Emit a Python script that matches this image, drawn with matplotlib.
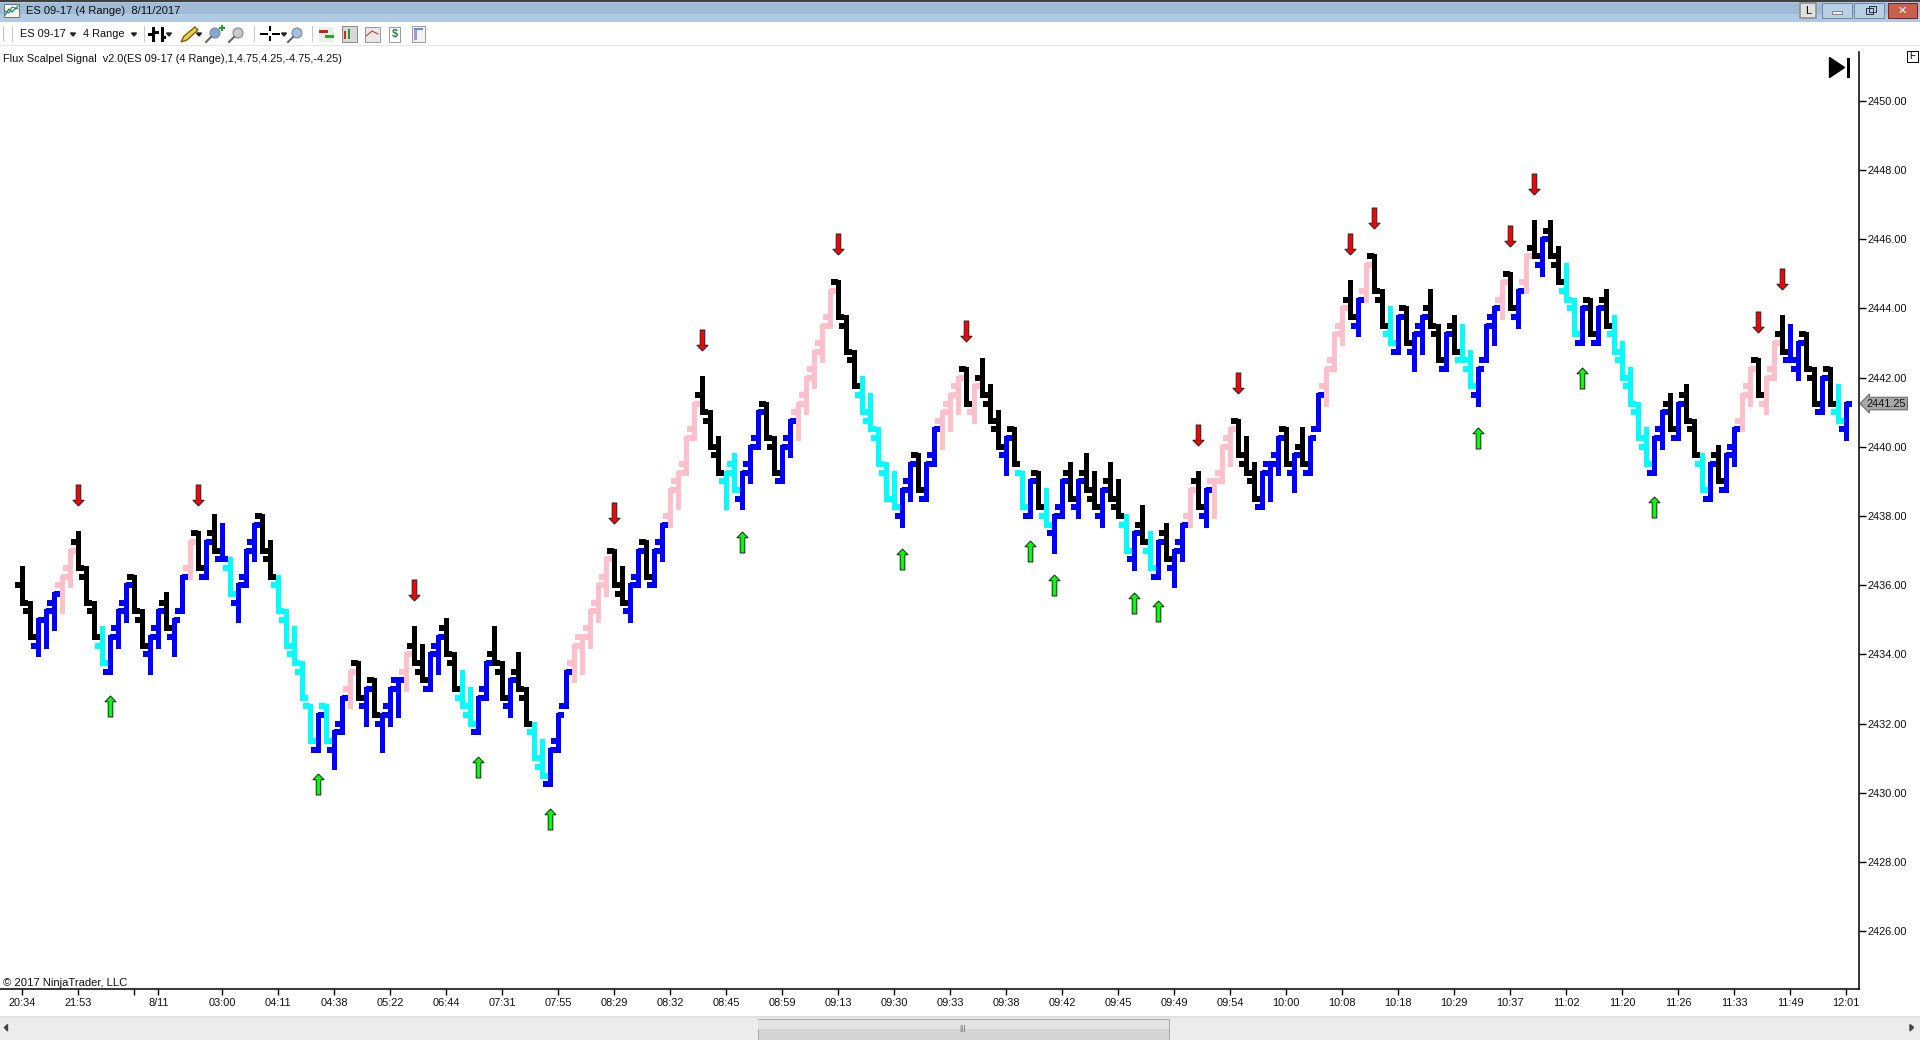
"""
ES 09-17 4 Range chart with the Flux Scalpel Signal, NinjaTrader style window
"""
import matplotlib
matplotlib.use('Agg')
import matplotlib.pyplot as plt
from matplotlib.patches import Polygon, Rectangle
from matplotlib.path import Path

plt.rcParams['font.family'] = ['Liberation Sans', 'DejaVu Sans']

# prices are quoted in quarter points, bars below are in ticks under 2450.00
TOP_PRICE = 2450.0
TICK = 0.25
RANGE_TICKS = 4

bar_high = [54, 58, 60, 59, 57, 55, 52, 50, 54, 58,
            61, 62, 59, 56, 55, 59, 62, 59, 57, 60,
            55, 51, 50, 51, 48, 49, 53, 56, 52, 49,
            48, 51, 55, 59, 61, 65, 70, 71, 70, 73,
            69, 66, 65, 68, 67, 71, 68, 67, 64, 61,
            63, 64, 62, 60, 64, 66, 68, 69, 65, 61,
            65, 67, 64, 68, 72, 74, 75, 71, 66, 63,
            62, 59, 56, 53, 52, 54, 56, 52, 51, 52,
            49, 45, 43, 39, 35, 32, 36, 39, 43, 41,
            43, 40, 36, 35, 39, 40, 37, 35, 32, 29,
            26, 22, 21, 25, 29, 32, 34, 38, 42, 43,
            45, 42, 41, 42, 38, 36, 34, 32, 31, 33,
            30, 33, 36, 39, 38, 43, 44, 43, 45, 48,
            44, 42, 44, 41, 43, 45, 42, 44, 48, 50,
            47, 50, 51, 49, 52, 49, 45, 43, 45, 44,
            40, 38, 37, 39, 42, 43, 42, 39, 38, 41,
            38, 39, 34, 31, 27, 24, 21, 23, 19, 18,
            22, 24, 25, 24, 27, 25, 22, 26, 27, 25,
            26, 29, 31, 26, 24, 21, 20, 22, 18, 14,
            16, 14, 17, 19, 23, 24, 23, 24, 22, 25,
            28, 31, 35, 38, 39, 36, 34, 35, 33, 37,
            41, 42, 40, 41, 38, 34, 31, 30, 32, 28,
            25, 26, 28, 27, 31, 32, 31, 33, 35]

bar_open = [56, 59, 63, 60, 58, 56, 54, 51, 55, 59,
            63, 66, 61, 58, 55, 60, 64, 61, 58, 62,
            59, 54, 50, 55, 50, 53, 54, 58, 55, 51,
            48, 53, 56, 60, 64, 66, 70, 75, 70, 75,
            72, 68, 65, 70, 67, 72, 70, 67, 66, 63,
            66, 68, 63, 61, 65, 69, 71, 73, 68, 64,
            66, 70, 66, 69, 73, 77, 79, 74, 70, 65,
            62, 61, 58, 55, 52, 57, 59, 55, 51, 56,
            51, 48, 44, 42, 38, 34, 37, 41, 44, 42,
            46, 42, 39, 35, 40, 44, 39, 36, 34, 31,
            28, 25, 21, 26, 30, 34, 37, 39, 43, 46,
            48, 44, 41, 46, 41, 37, 35, 33, 31, 36,
            32, 35, 38, 41, 38, 43, 48, 43, 48, 50,
            47, 43, 47, 43, 46, 48, 44, 47, 49, 53,
            49, 52, 55, 50, 54, 51, 48, 44, 48, 44,
            43, 39, 37, 42, 44, 47, 42, 41, 38, 43,
            40, 43, 38, 33, 30, 26, 23, 26, 22, 18,
            23, 27, 29, 24, 29, 26, 24, 27, 31, 26,
            30, 31, 34, 30, 25, 23, 20, 25, 21, 17,
            19, 15, 19, 22, 24, 28, 23, 28, 23, 27,
            30, 33, 36, 40, 43, 38, 35, 39, 34, 38,
            42, 46, 41, 45, 40, 37, 33, 30, 35, 31,
            27, 30, 31, 27, 32, 36, 31, 36, 38]

bar_close = [58, 62, 60, 59, 57, 55, 52, 54, 58, 62,
             65, 62, 59, 56, 59, 63, 62, 59, 61, 60,
             55, 51, 54, 51, 52, 53, 57, 56, 52, 49,
             52, 55, 59, 63, 65, 69, 74, 71, 74, 73,
             69, 66, 69, 68, 71, 71, 68, 67, 64, 65,
             67, 64, 62, 64, 68, 70, 72, 69, 65, 65,
             69, 67, 68, 72, 76, 78, 75, 71, 66, 63,
             62, 59, 56, 53, 56, 58, 56, 52, 55, 52,
             49, 45, 43, 39, 35, 36, 40, 43, 43, 45,
             43, 40, 36, 39, 43, 40, 37, 35, 32, 29,
             26, 22, 25, 29, 33, 36, 38, 42, 46, 47,
             45, 42, 45, 42, 38, 36, 34, 32, 35, 33,
             34, 37, 40, 39, 42, 47, 44, 47, 49, 48,
             44, 46, 44, 45, 47, 45, 46, 48, 52, 50,
             51, 54, 51, 53, 52, 49, 45, 47, 45, 44,
             40, 38, 41, 43, 46, 43, 42, 39, 42, 41,
             42, 39, 34, 31, 27, 24, 25, 23, 19, 22,
             26, 28, 25, 28, 27, 25, 26, 30, 27, 29,
             30, 33, 31, 26, 24, 21, 24, 22, 18, 18,
             16, 18, 21, 23, 27, 24, 27, 24, 26, 29,
             32, 35, 39, 42, 39, 36, 38, 35, 37, 41,
             45, 42, 44, 41, 38, 34, 31, 34, 32, 28,
             29, 30, 28, 31, 35, 32, 35, 37, 35]

# K = flat signal, B = long, C = short pullback, P = long pullback
bar_state = list("KKBBBPPKKK" "CBBBKKBBKB" "BPKBKBCBBB" "KKCCCCCBCB"
                 "BPKBKBBBPK" "KBBKKCCBBK" "KBKKCCBBBP" "PPPPKKBBKB"
                 "BPPPPKKKCC" "BBBKKBBPPP" "PPKKKCCCCC" "BBKBBPPPKP"
                 "KKKBKCBKCB" "BKBKKBKKCB" "KCBKBBPKBP" "PPKKKBBBKB"
                 "KBBPPPKBPK" "KCBKBBKKBK" "CCBBBPKBPK" "BKKCCBKBKC"
                 "CCCCBBKBKK" "CBKBBPPKPP" "KBBKKBKCB")

sell_bars = [7, 22, 49, 74, 85, 102, 118, 147, 152, 166, 169, 186, 189, 217, 220]
buy_bars = [11, 37, 57, 66, 90, 110, 126, 129, 139, 142, 182, 195, 204]

time_ticks = [0, 7, 14, 17] + list(range(25, 229, 7))
time_labels = ['20:34', '21:53', '', '8/11', '03:00', '04:11', '04:38', '05:22',
               '06:44', '07:31', '07:55', '08:29', '08:32', '08:45', '08:59',
               '09:13', '09:30', '09:33', '09:38', '09:42', '09:45', '09:49',
               '09:54', '10:00', '10:08', '10:18', '10:29', '10:37', '11:02',
               '11:20', '11:26', '11:33', '11:49', '12:01']
price_ticks = list(range(2426, 2452, 2))

BAR_COLORS = {'K': '#000000', 'B': '#0000ff', 'C': '#00ffff', 'P': '#ffc0cb'}


def to_price(ticks):
    return TOP_PRICE - ticks * TICK


fig = plt.figure(figsize=(19.2, 10.4), dpi=100, facecolor='white')

# window chrome, in pixels of the final picture
chrome = fig.add_axes([0, 0, 1, 1], zorder=0)
chrome.set_xlim(0, 1920)
chrome.set_ylim(1040, 0)
chrome.axis('off')


def box(x, y, w, h, fc, ec='none', lw=0.7):
    chrome.add_patch(Rectangle((x, y), w, h, facecolor=fc, edgecolor=ec, linewidth=lw))


box(0, 0, 1920, 22, '#b0cae4')
box(0, 3, 1920, 11, '#a0bbd6')
box(0, 0, 1920, 1.5, '#404040')
box(0, 44.5, 1920, 1.2, '#e4e4e4')
box(0, 1016, 1920, 24, '#ececec')
box(0, 1016, 1920, 1.5, '#e0e0e0')
box(758, 1019, 411, 21, '#d4d4d4', '#a8a8a8')
box(758, 1020, 411, 9, '#e4e4e4')
chrome.text(962, 1028, '|||', fontsize=6, ha='center', va='center', color='#555555')
chrome.add_patch(Polygon([[7.5, 1024.5], [7.5, 1031], [4.5, 1027.5]], color='#444444'))
chrome.add_patch(Polygon([[1910, 1024.5], [1910, 1031], [1913.5, 1027.5]], color='#444444'))

# title bar icon
box(4, 4, 15, 13, '#f4f8f0', '#707070')
chrome.plot([5, 9, 12, 18], [15, 9, 12, 6], color='#20a040', lw=1.0)
chrome.plot([5, 9, 12, 18], [11, 13, 7, 9], color='#3060c0', lw=0.7)

chrome.text(26.5, 11, 'ES 09-17 (4 Range)  8/11/2017', fontsize=8.0, va='center', color='#101010')
chrome.text(20, 34, 'ES 09-17', fontsize=7.9, va='center', color='#101010')
chrome.text(83, 34, '4 Range', fontsize=7.9, va='center', color='#101010')
chrome.text(3, 59, 'Flux Scalpel Signal  v2.0(ES 09-17 (4 Range),1,4.75,4.25,-4.75,-4.25)',
            fontsize=7.95, va='center', color='#101010')
chrome.text(3, 983, '\u00a9 2017 NinjaTrader, LLC', fontsize=8.1, va='center', color='#101010')

# toolbar, only roughly
for x in [12, 144, 254, 312]:
    box(x, 26, 1, 16, '#c8c8c8')
for x in [73, 134, 169, 199, 284]:
    chrome.add_patch(Polygon([[x - 2.5, 33], [x + 2.5, 33], [x, 36]], color='#222222'))
box(3, 27, 1, 14, '#bbbbbb')
for x in [152, 161]:
    box(x, 27, 3, 15, '#000000')
box(148, 33, 5, 3, '#000000')
box(155, 31, 4, 3, '#000000')
box(162, 36, 4, 3, '#000000')
chrome.add_patch(Polygon([[181, 42], [184, 36], [195, 27], [198, 30], [187, 40]], facecolor='#f0d040', edgecolor='#806020'))
for x, tint in [(215, '#80a8d8'), (238, '#c8c8c8'), (297, '#a0c0e0')]:
    chrome.add_patch(plt.Circle((x, 33), 5, facecolor=tint, edgecolor='#888888', lw=0.8))
    chrome.plot([x - 4, x - 9], [37, 42], color='#666666', lw=1.5)
box(219, 27, 6, 2, '#20a020')
box(221, 25, 2, 6, '#20a020')
box(260, 32.5, 8, 2, '#000000')
box(272, 32.5, 8, 2, '#000000')
box(269, 26, 2, 5, '#000000')
box(269, 36, 2, 5, '#000000')
box(319, 27, 15, 15, '#e8f0e8')
box(319, 30, 9, 3, '#d02020')
box(325, 35, 9, 3, '#30a030')
box(342, 26, 15, 16, '#d8d8d8', '#888888')
box(348, 29, 2, 10, '#20a020')
box(344, 31, 2, 8, '#c03030')
box(365, 27, 15, 15, '#e8e8e8', '#999999')
chrome.plot([366, 372, 378], [36, 31, 34], color='#c04040', lw=0.8)
box(389, 27, 11, 15, '#ffffff', '#999999')
chrome.text(394.5, 34.5, '$', fontsize=8, color='#208040', ha='center', va='center', fontweight='bold')
box(412, 26, 13, 16, '#f4f4f4', '#999999')
box(414, 28, 3, 12, '#b090e0')
box(414, 28, 9, 2, '#6090d0')

# top right window buttons
box(1800, 3, 16, 15, '#e0e0e0', '#909090', 1.2)
chrome.text(1808, 11, 'L', fontsize=8, ha='center', va='center')
box(1822, 3, 30, 15, '#b8cfe6', '#7088a0')
box(1854, 3, 30, 15, '#b8cfe6', '#7088a0')
box(1888, 3, 29, 15, '#c8604c', '#702030')
box(1832, 11, 10, 3, '#eeeeee', '#606060', 0.5)
box(1866, 8, 7, 6, 'none', '#303030')
box(1869, 6, 7, 6, 'none', '#303030')
chrome.text(1902.5, 10.5, '\u2715', fontsize=8, ha='center', va='center', color='white',
            family=['DejaVu Sans'], fontweight='bold')

# jump to last bar button and F flag
chrome.add_patch(Polygon([[1829.5, 57.5], [1829.5, 77.5], [1844.5, 67.5]], color='black'))
box(1846.5, 57.5, 3.2, 20, '#000000')
box(1906.5, 50.5, 11.5, 11, 'white', 'black')
chrome.text(1912.2, 56.2, 'F', fontsize=7, ha='center', va='center')

# price pane
ax = fig.add_axes([0, (1040 - 989) / 1040, 1859 / 1920, (989 - 52) / 1040], zorder=1)
ax.patch.set_alpha(0)
ax.set_xlim(-2.79, 229.6)
ax.set_ylim(2424.33, 2451.41)

half_tick = 2 / 34.6  # bar end covers the open/close stroke
for i, state in enumerate(bar_state):
    color = BAR_COLORS[state]
    high = to_price(bar_high[i])
    low = to_price(bar_high[i] + RANGE_TICKS)
    ax.plot([i, i], [low - half_tick, high + half_tick], color=color, lw=3.6,
            solid_capstyle='butt', antialiased=False)
    ax.plot([i - 0.92, i], [to_price(bar_open[i])] * 2, color=color, lw=2.9,
            solid_capstyle='butt', antialiased=False)
    ax.plot([i, i + 0.72], [to_price(bar_close[i])] * 2, color=color, lw=2.9,
            solid_capstyle='butt', antialiased=False)

down_arrow = Path([(-0.22, 1), (0.22, 1), (0.22, -0.45), (0.53, -0.45), (0, -1),
                   (-0.53, -0.45), (-0.22, -0.45), (-0.22, 1)], closed=True)
up_arrow = Path([(x, -y) for x, y in down_arrow.vertices], closed=True)
# points of price between bar end and arrow middle
SELL_GAP = 1.10
BUY_GAP = 1.00

ax.scatter(sell_bars, [to_price(bar_high[i]) + SELL_GAP for i in sell_bars],
           marker=down_arrow, s=228, facecolor='#ff0000', edgecolor='#202020',
           linewidth=0.7, zorder=5)
ax.scatter(buy_bars, [to_price(bar_high[i] + RANGE_TICKS) - BUY_GAP for i in buy_bars],
           marker=up_arrow, s=228, facecolor='#00ff00', edgecolor='#202020',
           linewidth=0.7, zorder=5)

for side in ['top', 'left']:
    ax.spines[side].set_visible(False)
for side in ['right', 'bottom']:
    ax.spines[side].set_linewidth(1.1)

ax.yaxis.tick_right()
ax.set_yticks(price_ticks)
ax.set_yticklabels([f'{p:.2f}' for p in price_ticks])
ax.set_xticks(time_ticks)
ax.set_xticklabels(time_labels)
ax.tick_params(axis='y', length=4.7, width=1.0, pad=1.2, labelsize=7.9, labelcolor='#101010')
ax.tick_params(axis='x', length=4.3, width=1.0, pad=2.5, labelsize=7.9, labelcolor='#101010')

last_close = to_price(bar_close[-1])
ax.annotate(f'{last_close:.2f}', xy=(1, last_close), xycoords=('axes fraction', 'data'),
            xytext=(5.5, 0), textcoords='offset points', va='center', ha='left',
            fontsize=7.9, color='#101010', annotation_clip=False,
            bbox=dict(boxstyle='larrow,pad=0.12', facecolor='#a8a8a8', edgecolor='#606060', linewidth=0.7))

fig.savefig('out.png', dpi=100)
plt.close('all')
